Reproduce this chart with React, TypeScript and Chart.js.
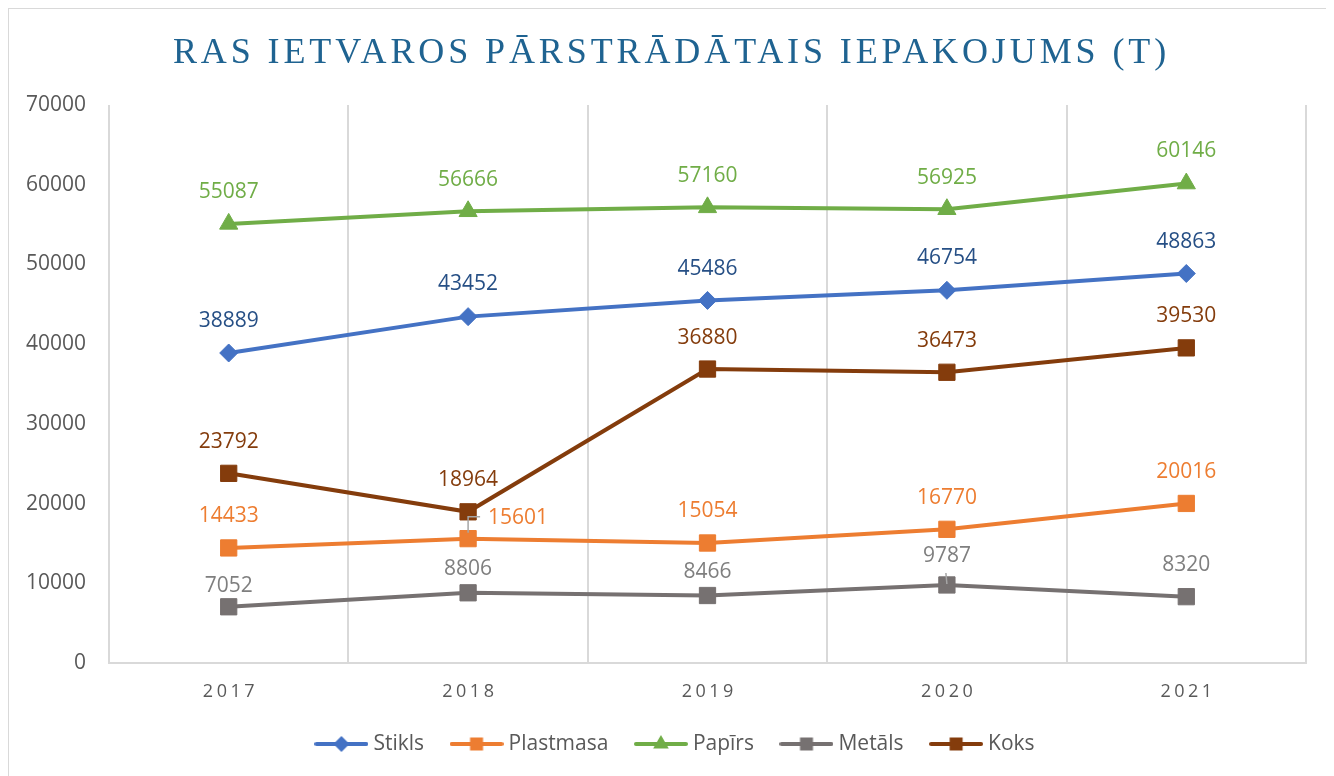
import React, { useEffect, useRef } from "react";
import { Chart, registerables } from "chart.js";

Chart.register(...registerables);

// ---------------- data ----------------
const YEARS = ["2017", "2018", "2019", "2020", "2021"];
const SERIES_NAMES = ["Stikls", "Plastmasa", "Papīrs", "Metāls", "Koks"];
const STIKLS = [38889, 43452, 45486, 46754, 48863];
const PLASTMASA = [14433, 15601, 15054, 16770, 20016];
const PAPIRS = [55087, 56666, 57160, 56925, 60146];
const METALS = [7052, 8806, 8466, 9787, 8320];
const KOKS = [23792, 18964, 36880, 36473, 39530];
const Y_MIN = 0;
const Y_MAX = 70000;
const Y_STEP = 10000;
const TITLE = "RAS IETVAROS PĀRSTRĀDĀTAIS IEPAKOJUMS (T)";

// ---------------- styles ----------------
const LINE_COLORS = ["#4472C4", "#ED7D31", "#70AD47", "#767171", "#843C0C"];
const LABEL_COLORS = ["#264F85", "#ED7D31", "#70AD47", "#7F7F7F", "#843C0C"];
const POINT_STYLES = ["rectRot", "rect", "triangle", "rect", "rect"];
const POINT_RADII = [9, 11.5, 10.5, 11.5, 11.5];
// label offsets (dx, dy) relative to each point
const LABEL_OFFSETS = [
  [[0, -33], [0, -34], [0, -33], [0, -34], [0, -33]],
  [[0, -33], [50, -22], [0, -33], [0, -33], [0, -33]],
  [[0, -33], [0, -33], [0, -33], [0, -33], [0, -34]],
  [[0, -22], [0, -25], [0, -25], [0, -30], [0, -33]],
  [[0, -33], [0, -33], [0, -33], [0, -33], [0, -33]],
];
const LEADERS = [
  { series: 1, index: 1, path: [[0, -6], [0, -22], [12, -22]] },
  { series: 3, index: 3, path: [[-1, -12], [0, -1]] },
];
const FONT = "'Open Sans'";
const TEXT_GREY = "#595959";
const GRID = "#D9D9D9";

const SERIES = [STIKLS, PLASTMASA, PAPIRS, METALS, KOKS];

function legendImage(di: number): HTMLCanvasElement {
  const c = document.createElement("canvas");
  c.width = 54;
  c.height = 20;
  const g = c.getContext("2d")!;
  const col = LINE_COLORS[di];
  g.strokeStyle = col;
  g.fillStyle = col;
  g.lineWidth = 4;
  g.lineCap = "round";
  g.beginPath();
  g.moveTo(2, 10);
  g.lineTo(52, 10);
  g.stroke();
  const cx = 27, cy = 10;
  g.beginPath();
  const st = POINT_STYLES[di];
  if (st === "rectRot") {
    const r = 8;
    g.moveTo(cx, cy - r);
    g.lineTo(cx + r, cy);
    g.lineTo(cx, cy + r);
    g.lineTo(cx - r, cy);
    g.closePath();
  } else if (st === "triangle") {
    const r = 9;
    g.moveTo(cx, cy - r);
    g.lineTo(cx + r * 0.866, cy + r / 2);
    g.lineTo(cx - r * 0.866, cy + r / 2);
    g.closePath();
  } else {
    g.rect(cx - 6.5, cy - 6.5, 13, 13);
  }
  g.fill();
  return c;
}

const titlePlugin = {
  id: "customTitle",
  afterDraw(chart: any) {
    const ctx = chart.ctx;
    ctx.save();
    ctx.font = `36px 'Liberation Serif'`;
    (ctx as any).letterSpacing = "3.9px";
    ctx.fillStyle = "#1F6391";
    ctx.textAlign = "center";
    ctx.textBaseline = "alphabetic";
    ctx.fillText(TITLE, chart.width / 2 + 0.5, 54);
    ctx.restore();
  },
};

const scalePatches = {
  id: "scalePatches",
  afterLayout(chart: any) {
    const sc = chart.scales.x;
    if (sc && !sc.__patched) {
      const orig = sc.drawLabels.bind(sc);
      sc.drawLabels = (area: any) => {
        const c = sc.ctx;
        c.save();
        (c as any).letterSpacing = "3.5px";
        c.translate(1.75, 0);
        orig(area);
        c.restore();
      };
      sc.__patched = true;
    }
    const ys = chart.scales.y;
    if (ys) {
      ys._computeLabelArea = () => undefined;
    }
  },
};

const valueLabels = {
  id: "valueLabels",
  afterDatasetsDraw(chart: any) {
    const ctx = chart.ctx;
    ctx.save();
    // leader lines
    ctx.strokeStyle = "#A6A6A6";
    ctx.lineWidth = 1.5;
    LEADERS.forEach((l) => {
      const pt = chart.getDatasetMeta(l.series).data[l.index];
      ctx.beginPath();
      l.path.forEach(([dx, dy], k) => {
        if (k === 0) ctx.moveTo(pt.x + dx, pt.y + dy);
        else ctx.lineTo(pt.x + dx, pt.y + dy);
      });
      ctx.stroke();
    });
    ctx.font = `21px ${FONT}`;
    ctx.textAlign = "center";
    ctx.textBaseline = "alphabetic";
    chart.data.datasets.forEach((ds: any, di: number) => {
      const meta = chart.getDatasetMeta(di);
      ctx.fillStyle = LABEL_COLORS[di];
      meta.data.forEach((pt: any, i: number) => {
        const [dx, dy] = LABEL_OFFSETS[di][i];
        ctx.fillText(String(ds.data[i]), pt.x + dx, pt.y + dy + 7.5);
      });
    });
    ctx.restore();
  },
};

export default function App() {
  const ref = useRef<HTMLCanvasElement | null>(null);

  useEffect(() => {
    document.documentElement.style.overflow = "hidden";
    const canvas = ref.current!;
    const chart = new Chart(canvas, {
      type: "line",
      data: {
        labels: YEARS,
        datasets: SERIES.map((vals, di) => ({
          label: SERIES_NAMES[di],
          data: vals,
          borderColor: LINE_COLORS[di],
          backgroundColor: LINE_COLORS[di],
          borderWidth: 4,
          tension: 0,
          pointStyle: POINT_STYLES[di] as any,
          pointRadius: POINT_RADII[di],
          pointBorderWidth: 1,
          pointBackgroundColor: LINE_COLORS[di],
          pointBorderColor: LINE_COLORS[di],
          fill: false,
        })),
      },
      options: {
        responsive: false,
        devicePixelRatio: 1,
        animation: false,
        layout: { padding: { top: 96, right: 27, bottom: 11.5, left: 39.5 } },
        plugins: {
          title: { display: false },
          tooltip: { enabled: false },
          legend: {
            display: true,
            position: "bottom",
            labels: {
              usePointStyle: true,
              pointStyleWidth: 43,
              padding: 31,
              color: TEXT_GREY,
              font: { family: FONT, size: 21 },
              generateLabels: (ch: any) =>
                ch.data.datasets.map((ds: any, i: number) => ({
                  text: ds.label,
                  fillStyle: LINE_COLORS[i],
                  strokeStyle: LINE_COLORS[i],
                  lineWidth: 0,
                  pointStyle: legendImage(i),
                  hidden: false,
                  datasetIndex: i,
                  fontColor: TEXT_GREY,
                })),
            },
          },
        },
        scales: {
          x: {
            type: "category",
            offset: true,
            grid: { display: true, offset: true, color: GRID, lineWidth: 2, drawTicks: false },
            border: { display: true, color: GRID, width: 2 },
            ticks: { color: TEXT_GREY, font: { family: FONT, size: 18 }, padding: 18, maxRotation: 0 },
            afterFit: (s: any) => {
              s.height = 39.5;
            },
          },
          y: {
            min: Y_MIN,
            max: Y_MAX,
            grid: { display: false, drawTicks: false },
            border: { display: false },
            ticks: {
              stepSize: Y_STEP,
              color: TEXT_GREY,
              font: { family: FONT, size: 21 },
              padding: 23,
              callback: (v: any) => String(v),
            },
            afterFit: (s: any) => {
              s.width = 60.5;
            },
          },
        },
      },
      plugins: [titlePlugin, scalePatches, valueLabels],
    } as any);
    return () => chart.destroy();
  }, []);

  return (
    <div
      style={{
        width: 1324,
        height: 780,
        border: "1px solid #D9D9D9",
        background: "#fff",
      }}
    >
      <canvas ref={ref} width={1324} height={767} style={{ display: "block" }} />
    </div>
  );
}
